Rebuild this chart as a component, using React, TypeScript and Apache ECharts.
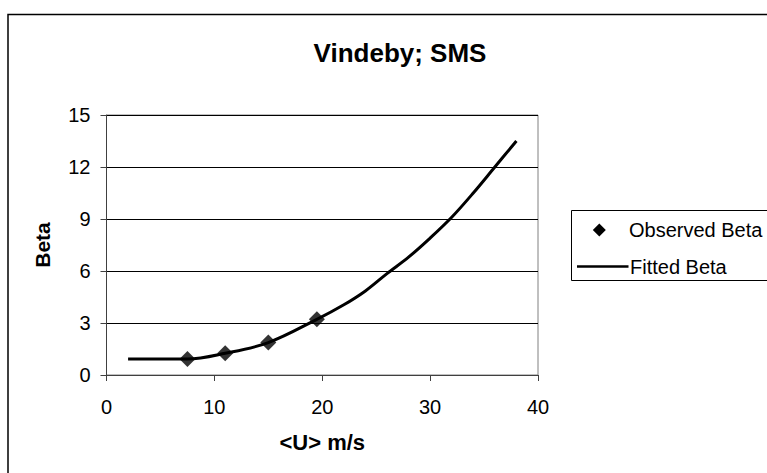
import React, { useEffect, useRef } from "react";
import * as echarts from "echarts";

const titleText = "Vindeby; SMS";
const xAxisName = "<U> m/s";
const yAxisName = "Beta";
const observedName = "Observed Beta";
const fittedName = "Fitted Beta";

const observedU = [7.5, 11, 15, 19.5];
const observedBeta = [0.92, 1.25, 1.87, 3.21];

const fittedU = [2, 4, 6, 7.5, 11, 15, 19.5, 22, 24, 26, 28, 30, 32, 34, 36, 38];
const fittedBeta = [0.92, 0.92, 0.92, 0.92, 1.25, 1.87, 3.21, 4.05, 4.85, 5.85, 6.8, 7.9, 9.1, 10.5, 12.0, 13.5];

const FONT = "'Liberation Sans', Arial, Helvetica, sans-serif";

export default function App() {
  const ref = useRef<HTMLDivElement>(null);

  useEffect(() => {
    document.body.style.margin = "0";
    if (!ref.current) return;
    const chart = echarts.init(ref.current, null, { renderer: "svg" });

    const observed = observedU.map((u, i) => [u, observedBeta[i]]);
    const fitted = fittedU.map((u, i) => [u, fittedBeta[i]]);

    chart.setOption({
      animation: false,
      backgroundColor: "#ffffff",
      textStyle: { fontFamily: FONT },
      title: {
        text: titleText,
        left: 395,
        textAlign: "center",
        top: 35,
        textStyle: { fontSize: 26, fontWeight: "bold", color: "#000", fontFamily: FONT },
      },
      grid: {
        left: 106.5,
        top: 115,
        width: 431.5,
        height: 260,
        show: true,
        borderColor: "#808080",
        borderWidth: 1,
        backgroundColor: "transparent",
      },
      xAxis: {
        type: "value",
        min: 0,
        max: 40,
        interval: 10,
        name: xAxisName,
        nameLocation: "middle",
        nameGap: 56,
        nameTextStyle: { fontSize: 22, fontWeight: "bold", color: "#000", fontFamily: FONT },
        axisLine: { show: true, onZero: false, lineStyle: { color: "#404040", width: 1 } },
        axisTick: { show: true, inside: false, length: 6, lineStyle: { color: "#404040" } },
        axisLabel: { fontSize: 20, color: "#000", margin: 22, fontFamily: FONT },
        splitLine: { show: false },
      },
      yAxis: {
        type: "value",
        min: 0,
        max: 15,
        interval: 3,
        name: yAxisName,
        nameLocation: "middle",
        nameGap: 54,
        nameRotate: 90,
        nameTextStyle: { fontSize: 21, fontWeight: "bold", color: "#000", fontFamily: FONT },
        axisLine: { show: true, onZero: false, lineStyle: { color: "#404040", width: 1 } },
        axisTick: { show: true, inside: false, length: 6, lineStyle: { color: "#404040" } },
        axisLabel: { fontSize: 20, color: "#000", margin: 16, fontFamily: FONT },
        splitLine: { show: true, lineStyle: { color: "#000", width: 1 } },
      },
      series: [
        {
          name: fittedName,
          type: "line",
          data: fitted,
          symbol: "none",
          showSymbol: false,
          smooth: 0.35,
          lineStyle: { color: "#000", width: 3 },
          z: 3,
        },
        {
          name: observedName,
          type: "scatter",
          data: observed,
          symbol: "diamond",
          symbolSize: 16,
          itemStyle: { color: "#000" },
          z: 4,
        },
      ],
      graphic: [
        {
          type: "rect",
          z: -10,
          silent: true,
          shape: { x: 8, y: 14.5, width: 800, height: 500 },
          style: { fill: "none", stroke: "#000", lineWidth: 1.5 },
        },
        {
          type: "rect",
          silent: true,
          shape: { x: 571.5, y: 210.5, width: 250, height: 70 },
          style: { fill: "#fff", stroke: "#000", lineWidth: 1 },
        },
        {
          type: "polygon",
          silent: true,
          shape: { points: [[599.3, 223.5], [605.8, 230], [599.3, 236.5], [592.8, 230]] },
          style: { fill: "#000" },
        },
        {
          type: "line",
          silent: true,
          shape: { x1: 577, y1: 266.5, x2: 628.5, y2: 266.5 },
          style: { stroke: "#000", lineWidth: 2.5 },
        },
        {
          type: "text",
          silent: true,
          x: 629,
          y: 229.5,
          style: {
            text: observedName,
            fontSize: 20,
            fontFamily: FONT,
            fill: "#000",
            align: "left",
            verticalAlign: "middle",
          },
        },
        {
          type: "text",
          silent: true,
          x: 630,
          y: 266.5,
          style: {
            text: fittedName,
            fontSize: 20,
            fontFamily: FONT,
            fill: "#000",
            align: "left",
            verticalAlign: "middle",
          },
        },
      ],
    });

    return () => {
      chart.dispose();
    };
  }, []);

  return <div ref={ref} style={{ width: 767, height: 473 }} />;
}
